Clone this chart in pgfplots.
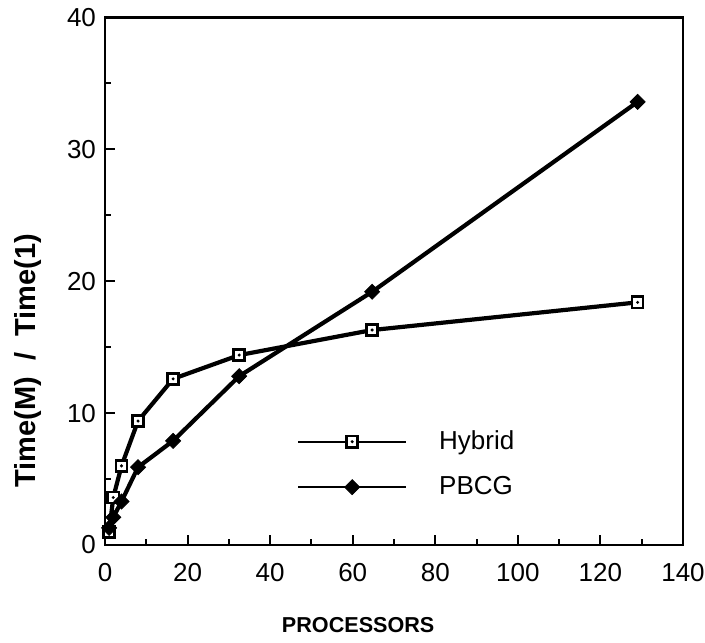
\documentclass[border=0pt]{standalone}
\usepackage{fontspec}
\setmainfont{Liberation Sans}
\usepackage{pgfplots}
\pgfplotsset{compat=1.18}
\pgfdeclareplotmark{sqdot}{%
  \pgfpathrectangle{\pgfpoint{-\pgfplotmarksize}{-\pgfplotmarksize}}{\pgfpoint{2\pgfplotmarksize}{2\pgfplotmarksize}}%
  \pgfusepathqfillstroke
  \begin{pgfscope}%
  \pgfpathcircle{\pgfpointorigin}{0.3\pgfplotmarksize}%
  \pgfsetfillcolor{black}\pgfusepathqfill
  \end{pgfscope}%
}
\begin{document}
\begin{tikzpicture}
\begin{axis}[
  scale only axis,
  width=289pt, height=263.75pt,
  xmin=0, xmax=140, ymin=0, ymax=40,
  xtick={0,20,...,140}, ytick={0,10,...,40},
  minor x tick num=1, minor y tick num=1,
  tick pos=left, tick align=inside,
  major tick length=5pt, minor tick length=3pt,
  every tick/.style={line width=1pt, black},
  axis line style={line width=1.3pt},
  /pgf/number format/assume math mode=true,
  ticklabel style={font=\fontsize{13}{15}\selectfont},
  xticklabel style={yshift=-5.5pt},
  yticklabel style={xshift=-1pt},
  xlabel={\bfseries PROCESSORS},
  xlabel style={font=\fontsize{10.8}{13}\selectfont, at={(axis description cs:0.438,0)}, anchor=center, yshift=-40pt},
  ylabel={\bfseries Time(M)\ \ /\ \ Time(1)},
  ylabel style={font=\fontsize{14.5}{16}\selectfont, at={(axis description cs:-0.134,0.349)}, anchor=center},
  legend style={draw=none, fill=none, at={(axis cs:45,9.3)}, anchor=north west,
    font=\fontsize{13}{15}\selectfont, row sep=8pt,
    /tikz/every odd column/.append style={column sep=14pt}},
  legend cell align=left,
  legend image code/.code={\draw[mark repeat=2,mark phase=2,#1,line width=1pt] plot coordinates {(0pt,0pt)(27pt,0pt)(54pt,0pt)};},
]
\addplot[black, line width=2.1pt, mark=sqdot, mark size=2.8pt, mark options={fill=white, line width=1.3pt, solid}]
  coordinates {(1,1) (2,3.6) (4,6.0) (8,9.4) (16.5,12.6) (32.5,14.4) (64.7,16.3) (129,18.4)};
\addlegendentry{Hybrid}
\addplot[black, line width=2.1pt, mark=square*, mark size=2.65pt, mark options={fill=black, line width=0.4pt, solid, rotate=45}]
  coordinates {(1,1.3) (2,2.1) (4,3.3) (8,5.9) (16.5,7.9) (32.5,12.8) (64.7,19.2) (129,33.6)};
\addlegendentry{PBCG}
\end{axis}
\pgfresetboundingbox
\path[use as bounding box] ([shift={(-52.5pt,-48.5pt)}]current axis.south west) rectangle ([shift={(11pt,8.75pt)}]current axis.north east);
\end{tikzpicture}
\end{document}
